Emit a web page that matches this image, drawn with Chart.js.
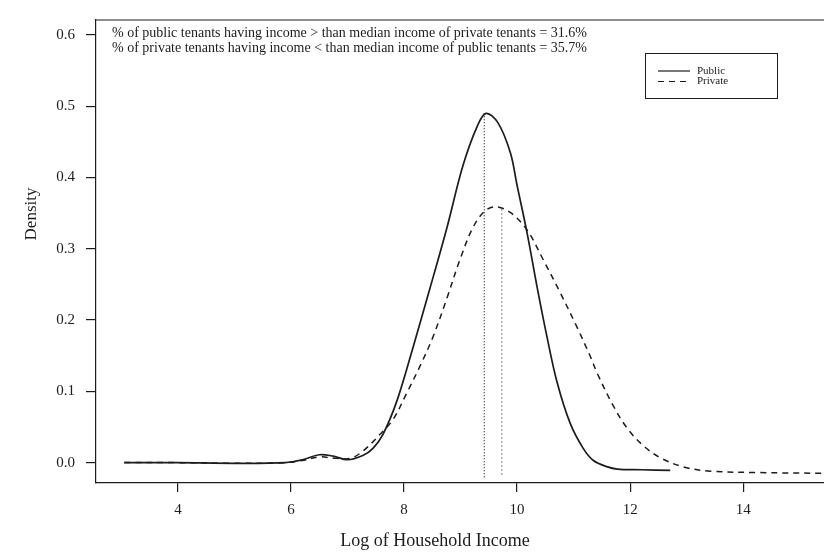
<!DOCTYPE html>
<html>
<head>
<meta charset="utf-8">
<script src="https://cdn.jsdelivr.net/npm/chart.js@4/dist/chart.umd.min.js"></script>
<style>
  html, body { margin: 0; padding: 0; background: #fff; }
  canvas { display: block; }
</style>
</head>
<body>
<canvas id="chart" width="824" height="554"></canvas>
<script>
// Kernel density of log household income, public vs private tenants
const X_PUBLIC = [3.05, 4.0, 5.0, 5.9, 6.2, 6.5, 6.75, 7.0, 7.27, 7.45, 7.63, 7.88, 8.16, 8.46, 8.76, 9.04, 9.29, 9.45, 9.66, 9.88, 10.0, 10.18, 10.35, 10.53, 10.71, 10.94, 11.17, 11.35, 11.6, 11.77, 12.2, 12.71];
const Y_PUBLIC = [0.0, 0.0, -0.001, 0.0, 0.004, 0.011, 0.009, 0.004, 0.010, 0.020, 0.040, 0.088, 0.162, 0.245, 0.330, 0.416, 0.471, 0.490, 0.477, 0.435, 0.389, 0.321, 0.248, 0.176, 0.112, 0.055, 0.020, 0.003, -0.006, -0.009, -0.010, -0.011];

const X_PRIVATE = [3.05, 4.0, 5.0, 5.9, 6.2, 6.5, 6.8, 7.05, 7.27, 7.58, 7.81, 8.05, 8.28, 8.51, 8.76, 8.99, 9.22, 9.43, 9.62, 9.88, 10.18, 10.46, 10.76, 11.06, 11.29, 11.42, 11.70, 11.95, 12.23, 12.53, 12.94, 13.42, 14.3, 15.43];
const Y_PRIVATE = [0.0, 0.0, -0.001, 0.0, 0.003, 0.008, 0.006, 0.006, 0.016, 0.040, 0.061, 0.098, 0.135, 0.176, 0.231, 0.285, 0.330, 0.353, 0.359, 0.351, 0.326, 0.285, 0.239, 0.190, 0.150, 0.125, 0.080, 0.048, 0.024, 0.007, -0.006, -0.012, -0.014, -0.015];

// medians: x position, top of the dotted line, bottom of the dotted line
const MEDIAN_PUBLIC = [9.42, 0.49, -0.021];
const MEDIAN_PRIVATE = [9.73, 0.355, -0.018];

const X_TICKS = [4, 6, 8, 10, 12, 14];
const Y_TICKS = [0.0, 0.1, 0.2, 0.3, 0.4, 0.5, 0.6];

const SERIES_LABELS = ['Public', 'Private'];
const NOTES = [
  '% of public tenants having income > than median income of private tenants = 31.6%',
  '% of private tenants having income < than median income of public tenants = 35.7%'
];
const X_TITLE = 'Log of Household Income';
const Y_TITLE = 'Density';

const SERIF = "'Liberation Serif', 'DejaVu Serif', serif";
const INK = '#1c1c1c';

const pts = (xs, ys) => xs.map((x, i) => ({ x, y: ys[i] }));
const vline = m => [{ x: m[0], y: m[1] }, { x: m[0], y: m[2] }];

// frame, titles, notes and legend box
const decor = {
  id: 'decor',
  afterDraw(chart) {
    const { ctx, chartArea: a } = chart;
    ctx.save();
    ctx.strokeStyle = INK;
    ctx.lineWidth = 1.2;
    ctx.beginPath();
    ctx.moveTo(a.left, a.top);
    ctx.lineTo(a.right, a.top);
    ctx.stroke();

    ctx.fillStyle = INK;
    ctx.textBaseline = 'middle';

    // axis titles
    ctx.font = `18px ${SERIF}`;
    ctx.textAlign = 'center';
    ctx.fillText(X_TITLE, 435, 541);
    ctx.save();
    ctx.translate(32, 214);
    ctx.rotate(-Math.PI / 2);
    ctx.font = `17px ${SERIF}`;
    ctx.fillText(Y_TITLE, 0, 0);
    ctx.restore();

    // notes
    ctx.font = `14px ${SERIF}`;
    ctx.textAlign = 'left';
    ctx.fillText(NOTES[0], 112, 33);
    ctx.fillText(NOTES[1], 112, 48);

    // legend box
    ctx.lineWidth = 1;
    ctx.strokeRect(645.5, 53.5, 132, 45);
    ctx.font = `11px ${SERIF}`;
    [0, 1].forEach((i, k) => {
      const ds = chart.data.datasets[i];
      const y = 71 + k * 10.5;
      ctx.setLineDash(ds.borderDash || []);
      ctx.lineWidth = 1.2;
      ctx.beginPath();
      ctx.moveTo(658, y);
      ctx.lineTo(690, y);
      ctx.stroke();
      ctx.setLineDash([]);
      ctx.fillText(ds.label, 697, y);
    });
    ctx.restore();
  }
};

new Chart(document.getElementById('chart'), {
  type: 'line',
  data: {
    datasets: [
      { label: SERIES_LABELS[0], data: pts(X_PUBLIC, Y_PUBLIC), borderColor: INK, borderWidth: 1.7, pointRadius: 0, tension: 0.35 },
      { label: SERIES_LABELS[1], data: pts(X_PRIVATE, Y_PRIVATE), borderColor: INK, borderWidth: 1.5, borderDash: [6, 5], pointRadius: 0, tension: 0.35 },
      { label: 'median public', data: vline(MEDIAN_PUBLIC), borderColor: '#222', borderWidth: 1.2, borderDash: [1, 2], pointRadius: 0 },
      { label: 'median private', data: vline(MEDIAN_PRIVATE), borderColor: '#333', borderWidth: 1.2, borderDash: [1, 3], pointRadius: 0 }
    ]
  },
  options: {
    responsive: false,
    devicePixelRatio: 1,
    animation: false,
    layout: { padding: { top: 7, right: 0, left: 0, bottom: 0 } },
    plugins: { legend: { display: false }, tooltip: { enabled: false } },
    scales: {
      x: {
        type: 'linear', min: 2.55, max: 15.43,
        afterBuildTicks: s => { s.ticks = X_TICKS.map(v => ({ value: v })); },
        afterFit: s => { s.height = 71; },
        grid: { drawOnChartArea: false, tickLength: 9, color: INK, lineWidth: 1.2 },
        border: { display: true, color: INK, width: 1.2 },
        ticks: { color: INK, font: { family: SERIF, size: 15 }, padding: 9, maxRotation: 0 }
      },
      y: {
        min: -0.0286, max: 0.621,
        afterBuildTicks: s => { s.ticks = Y_TICKS.map(v => ({ value: v })); },
        afterFit: s => { s.width = 96; },
        grid: { drawOnChartArea: false, tickLength: 10, color: INK, lineWidth: 1.2 },
        border: { display: true, color: INK, width: 1.2 },
        ticks: { color: INK, font: { family: SERIF, size: 15 }, padding: 11, callback: v => v.toFixed(1) }
      }
    }
  },
  plugins: [decor]
});
</script>
</body>
</html>
